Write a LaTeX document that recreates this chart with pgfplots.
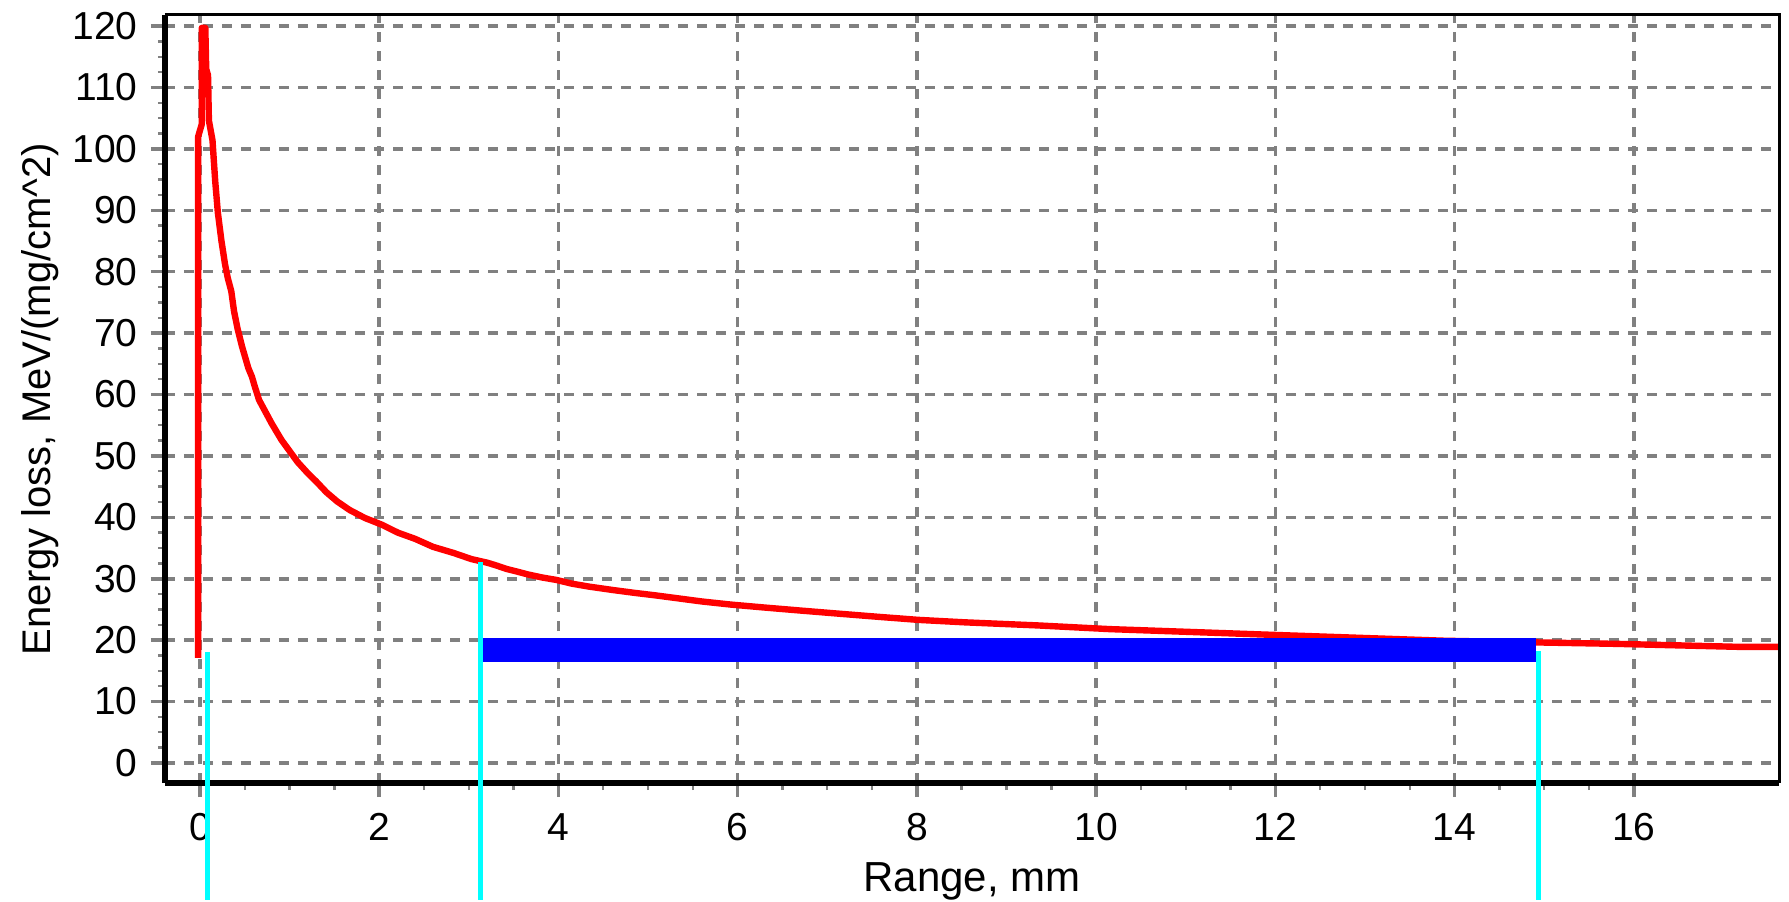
\documentclass[border=0pt]{standalone}
\usepackage{fontspec}
\setmainfont{Liberation Sans}
\usepackage{pgfplots}
\pgfplotsset{compat=1.18}
\definecolor{aqua}{RGB}{0,255,255}
\definecolor{pureblue}{RGB}{0,0,255}
\definecolor{purered}{RGB}{255,0,0}

\begin{document}
\begin{tikzpicture}
\begin{axis}[
  scale only axis, width=807pt, height=384pt,
  xmin=-0.39, xmax=17.62, ymin=-3.26, ymax=121.8,
  axis x line*=bottom, axis y line*=left,
  axis line style={black, line width=3pt},
  xtick={0,2,...,16}, ytick={0,10,...,120},
  minor x tick num=3, minor y tick num=3,
  tick align=outside,
  major tick length=7pt, minor tick length=3.5pt,
  major tick style={gray, line width=1.75pt},
  minor tick style={gray, line width=1.2pt},
  grid=major,
  major grid style={gray, line width=1.75pt, dash pattern=on 5pt off 4.5pt},
  tick label style={font=\fontsize{19.5}{20}\selectfont, inner sep=0pt},
  /pgf/number format/assume math mode=true,
  xticklabel shift=8pt, yticklabel shift=6.5pt,
  xlabel={Range, mm},
  ylabel={Energy loss, MeV/(mg/cm\textasciicircum 2)},
  xlabel style={at={(axis description cs:0.5,-0.1414)}, anchor=base, font=\fontsize{21}{22}\selectfont},
  ylabel style={at={(axis description cs:-0.07125,0.5)}, anchor=base, font=\fontsize{20}{21}\selectfont},
  clip=false,
]
% energy loss curve
\addplot[purered, line width=3.2pt, line join=round] coordinates {
 (-0.02,17.1) (-0.02,102) (0.02,104) (0.02,119.7) (0.06,119.7) (0.07,113)
 (0.09,112) (0.10,104.6) (0.14,101.4) (0.17,94.8) (0.20,89.6) (0.24,85)
 (0.28,81.2) (0.31,79) (0.35,76.8) (0.38,73.6) (0.42,70.7) (0.47,67.8)
 (0.50,66.3) (0.54,64.3) (0.58,62.9) (0.61,61.4) (0.66,59.1) (0.73,57.2)
 (0.80,55.3) (0.91,52.6) (0.99,51) (1.09,49) (1.19,47.4) (1.30,45.8)
 (1.41,44.1) (1.53,42.6) (1.67,41.2) (1.84,39.9) (2.03,38.8) (2.21,37.5)
 (2.40,36.5) (2.60,35.2) (2.83,34.2) (3.03,33.2) (3.21,32.6) (3.32,32.1)
 (3.42,31.6) (3.53,31.2) (3.66,30.7) (3.82,30.2) (3.98,29.8) (4.15,29.2)
 (4.35,28.7) (4.59,28.2) (4.85,27.7) (5.08,27.3) (5.34,26.8) (5.60,26.3)
 (5.92,25.8) (6.31,25.3) (6.72,24.8) (7.14,24.3) (7.57,23.8) (8.02,23.3)
 (8.54,22.9) (9.35,22.4) (10.15,21.8) (10.93,21.4) (11.9,20.9) (12.9,20.4)
 (13.9,19.9) (15.8,19.4) (17.2,18.9) (17.62,18.9)
};
% range markers
\addplot[aqua, line width=2.5pt] coordinates {(0.086,-22.3) (0.086,18.1)};
\addplot[aqua, line width=2.5pt] coordinates {(3.125,-22.3) (3.125,32.8)};
\addplot[aqua, line width=2.5pt] coordinates {(14.94,-22.3) (14.94,18.2)};
% straggling band
\addplot[pureblue, line width=11.7pt] coordinates {(3.16,18.4) (14.91,18.4)};
\draw[black, line width=1.5pt] (rel axis cs:0,1) -- (rel axis cs:1,1) -- (rel axis cs:1,0);
\coordinate (sw) at (rel axis cs:0,0);
\end{axis}
\pgfresetboundingbox
\path[use as bounding box] ([shift={(-82.5pt,-59pt)}]sw) rectangle ++(894.5pt,450.5pt);
\end{tikzpicture}
\end{document}
